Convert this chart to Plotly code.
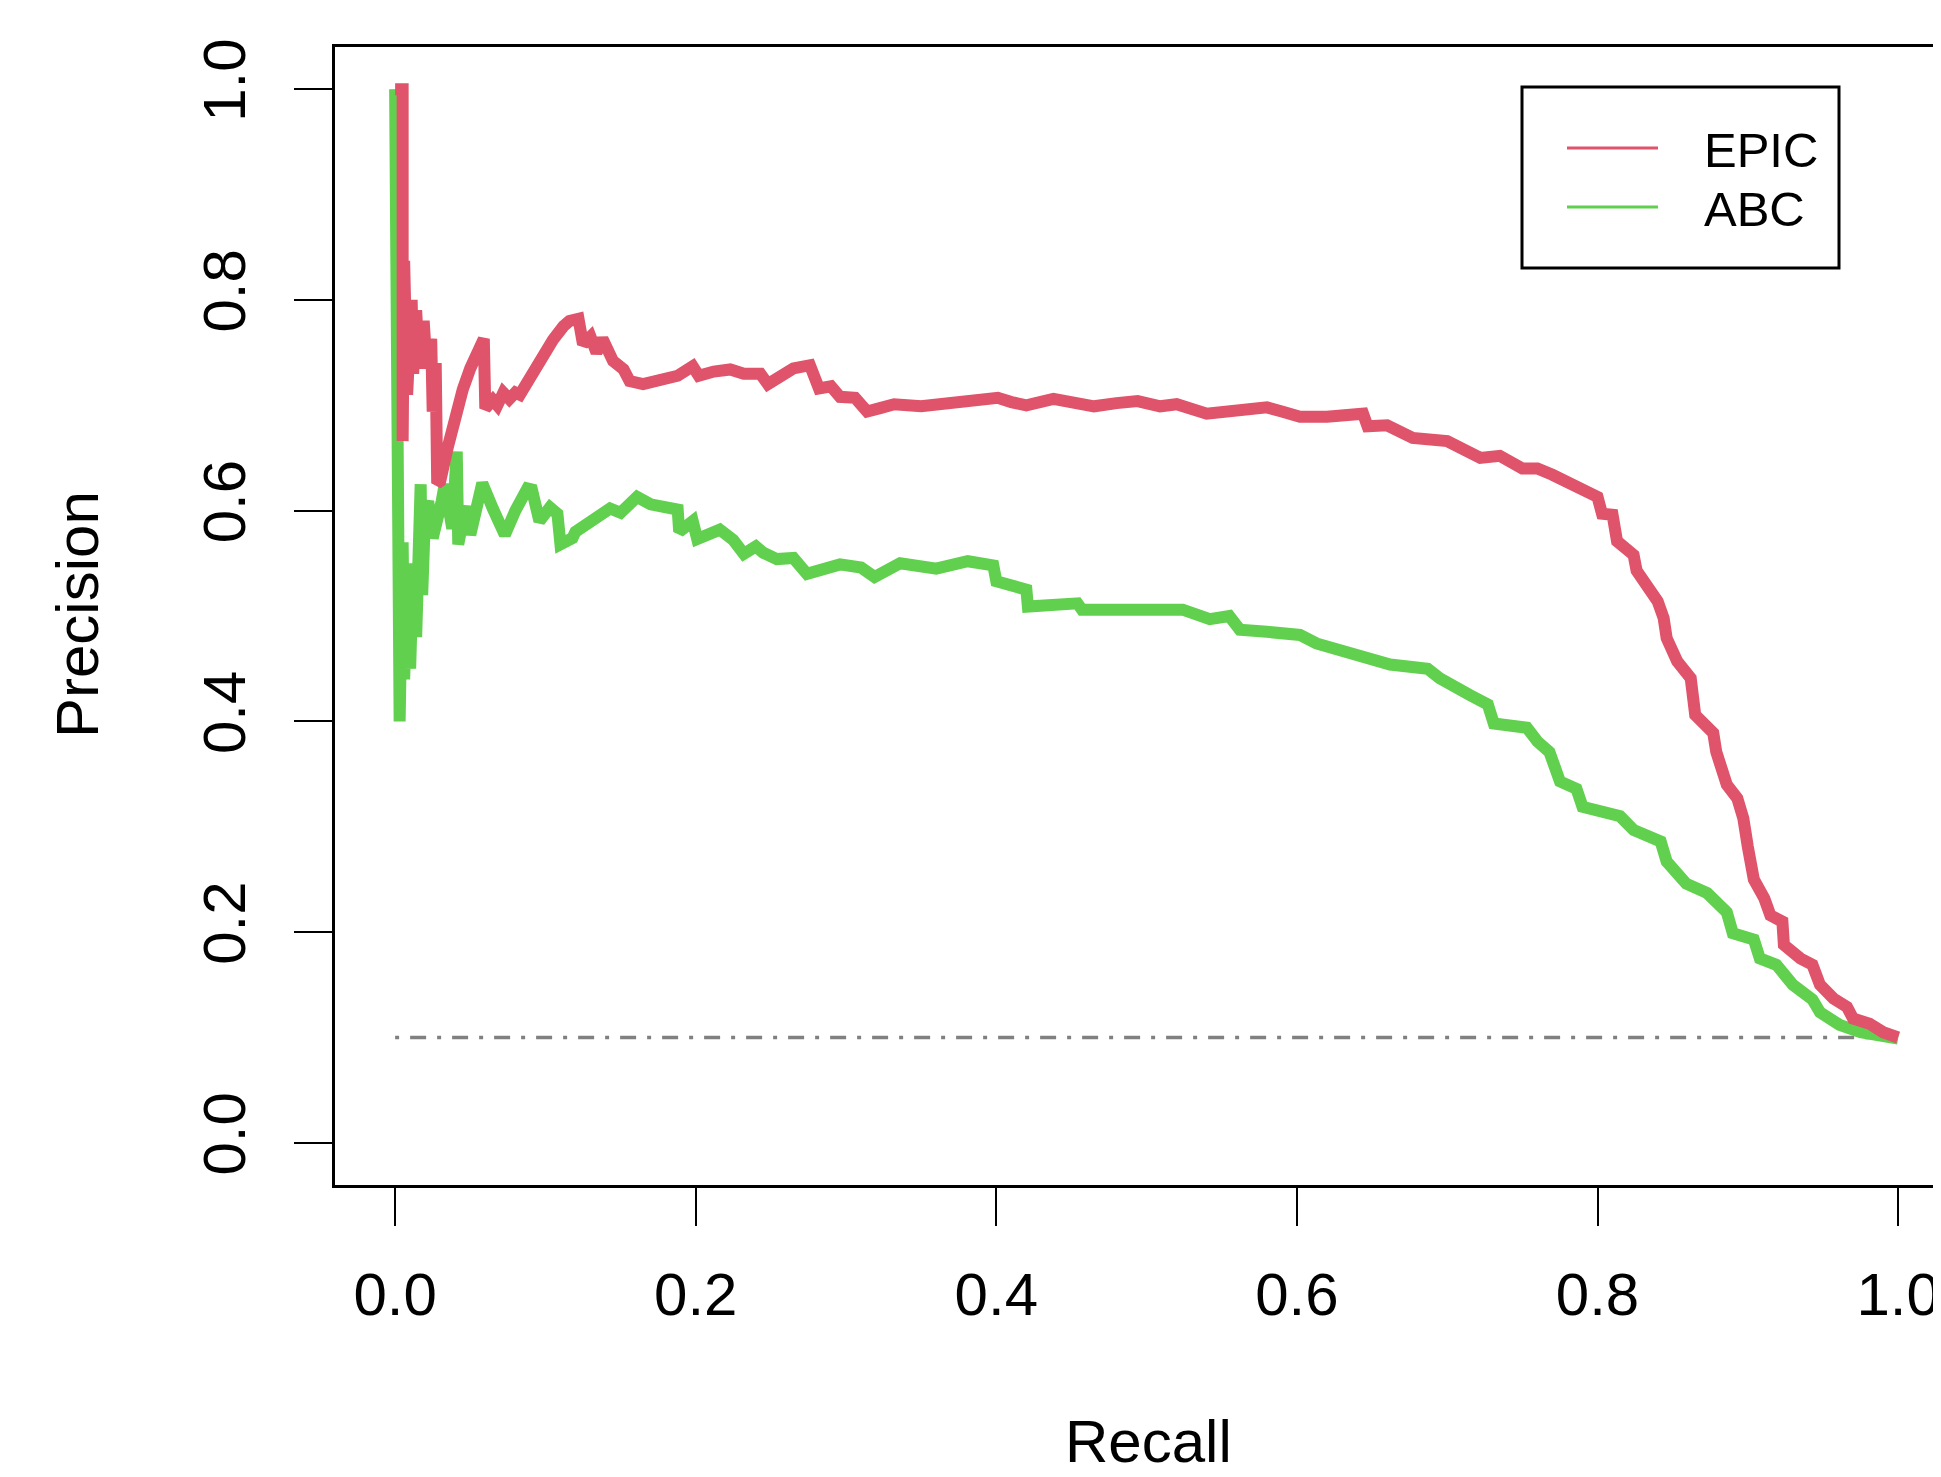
import plotly.graph_objects as go

# ---------------- data ----------------
epic_recall = [0.000, 0.005, 0.005, 0.006, 0.008, 0.011, 0.012, 0.014, 0.016, 0.019, 0.021, 0.024,
               0.025, 0.027, 0.028, 0.030, 0.035, 0.040, 0.045, 0.050, 0.055, 0.059, 0.060, 0.065,
               0.068, 0.072, 0.076, 0.080, 0.083, 0.090, 0.097, 0.105, 0.112, 0.116, 0.122, 0.125,
               0.130, 0.134, 0.138, 0.145, 0.152, 0.156, 0.165, 0.170, 0.178, 0.188, 0.198, 0.202,
               0.212, 0.223, 0.232, 0.243, 0.248, 0.265, 0.276, 0.282, 0.290, 0.296, 0.306, 0.314,
               0.322, 0.332, 0.350, 0.365, 0.376, 0.390, 0.401, 0.410, 0.420, 0.438, 0.450, 0.465,
               0.480, 0.494, 0.509, 0.520, 0.540, 0.555, 0.580, 0.590, 0.602, 0.620, 0.644, 0.647,
               0.660, 0.677, 0.700, 0.722, 0.735, 0.750, 0.760, 0.770, 0.782, 0.800, 0.803, 0.810,
               0.813, 0.824, 0.826, 0.833, 0.840, 0.844, 0.846, 0.853, 0.862, 0.865, 0.877, 0.879,
               0.886, 0.893, 0.897, 0.900, 0.904, 0.911, 0.915, 0.923, 0.924, 0.935, 0.943, 0.948,
               0.957, 0.966, 0.970, 0.981, 0.990, 1.000]
epic_precision = [1.000, 1.000, 0.666, 0.837, 0.710, 0.800, 0.730, 0.790, 0.735, 0.780, 0.735, 0.763,
                  0.694, 0.740, 0.626, 0.628, 0.660, 0.690, 0.715, 0.735, 0.752, 0.763, 0.697, 0.705,
                  0.700, 0.712, 0.706, 0.712, 0.710, 0.728, 0.745, 0.762, 0.775, 0.780, 0.782, 0.758,
                  0.765, 0.750, 0.763, 0.742, 0.734, 0.723, 0.720, 0.722, 0.726, 0.728, 0.737, 0.728,
                  0.732, 0.734, 0.730, 0.730, 0.720, 0.735, 0.738, 0.716, 0.718, 0.708, 0.707, 0.694,
                  0.697, 0.701, 0.699, 0.702, 0.702, 0.705, 0.707, 0.703, 0.700, 0.706, 0.703, 0.699,
                  0.702, 0.704, 0.699, 0.701, 0.692, 0.694, 0.698, 0.694, 0.689, 0.689, 0.692, 0.680,
                  0.681, 0.669, 0.666, 0.650, 0.652, 0.640, 0.640, 0.634, 0.626, 0.613, 0.597, 0.596,
                  0.571, 0.558, 0.543, 0.530, 0.514, 0.498, 0.479, 0.457, 0.441, 0.406, 0.389, 0.371,
                  0.340, 0.327, 0.308, 0.281, 0.250, 0.232, 0.216, 0.210, 0.188, 0.175, 0.169, 0.150,
                  0.137, 0.129, 0.118, 0.113, 0.105, 0.100]

abc_recall = [0.000, 0.001, 0.002, 0.003, 0.005, 0.006, 0.008, 0.010, 0.012, 0.014, 0.017, 0.018,
              0.020, 0.022, 0.025, 0.028, 0.031, 0.033, 0.035, 0.038, 0.041, 0.042, 0.045, 0.048,
              0.050, 0.054, 0.058, 0.065, 0.073, 0.080, 0.088, 0.091, 0.096, 0.103, 0.108, 0.110,
              0.118, 0.120, 0.132, 0.143, 0.150, 0.161, 0.170, 0.180, 0.188, 0.189, 0.198, 0.201,
              0.216, 0.225, 0.232, 0.240, 0.245, 0.254, 0.265, 0.274, 0.285, 0.296, 0.310, 0.319,
              0.336, 0.360, 0.381, 0.398, 0.400, 0.420, 0.421, 0.440, 0.454, 0.457, 0.480, 0.509,
              0.524, 0.542, 0.555, 0.562, 0.580, 0.602, 0.613, 0.638, 0.662, 0.687, 0.695, 0.715,
              0.727, 0.731, 0.753, 0.760, 0.768, 0.775, 0.786, 0.790, 0.805, 0.815, 0.824, 0.842,
              0.846, 0.859, 0.873, 0.886, 0.890, 0.904, 0.908, 0.919, 0.930, 0.943, 0.948, 0.961,
              0.975, 1.000]
abc_precision = [1.000, 0.500, 0.667, 0.400, 0.570, 0.440, 0.520, 0.450, 0.550, 0.480, 0.625, 0.520,
                 0.600, 0.609, 0.574, 0.600, 0.609, 0.625, 0.600, 0.583, 0.656, 0.568, 0.590, 0.604,
                 0.577, 0.600, 0.626, 0.602, 0.577, 0.600, 0.621, 0.620, 0.590, 0.603, 0.597, 0.568,
                 0.574, 0.580, 0.590, 0.602, 0.598, 0.613, 0.606, 0.604, 0.601, 0.580, 0.590, 0.573,
                 0.582, 0.572, 0.559, 0.566, 0.560, 0.554, 0.555, 0.540, 0.545, 0.549, 0.546, 0.537,
                 0.550, 0.545, 0.552, 0.548, 0.533, 0.525, 0.509, 0.511, 0.512, 0.506, 0.507, 0.506,
                 0.506, 0.497, 0.500, 0.487, 0.485, 0.482, 0.474, 0.463, 0.454, 0.450, 0.441, 0.425,
                 0.416, 0.398, 0.394, 0.381, 0.371, 0.343, 0.336, 0.319, 0.313, 0.310, 0.297, 0.286,
                 0.267, 0.246, 0.237, 0.219, 0.199, 0.193, 0.175, 0.169, 0.150, 0.136, 0.124, 0.112,
                 0.105, 0.099]

baseline_recall = [0.0, 1.0]
baseline_precision = [0.1, 0.1]

tick_values = [0.0, 0.2, 0.4, 0.6, 0.8, 1.0]
tick_labels = ["0.0", "0.2", "0.4", "0.6", "0.8", "1.0"]

series_names = ["EPIC", "ABC"]
series_colors = ["#DF536B", "#61D04F"]

# ---------------- layout geometry (page pixels; page body has an 8px margin) ----------------
OFF = 8
W, H = 1941 - OFF, 1477 - OFF
PLOT_LEFT, PLOT_TOP, PLOT_BOTTOM = 335 - OFF, 47 - OFF, 1185 - OFF
ML, MT, MB = PLOT_LEFT, PLOT_TOP, H - PLOT_BOTTOM
PW = W - ML
PH = H - MT - MB
FONT = "Liberation Sans, Arial, Helvetica, sans-serif"


def px(X):
    # X is a page pixel coordinate
    return (X - OFF - ML) / PW


def py(Y):
    return (PLOT_BOTTOM - (Y - OFF)) / PH


fig = go.Figure()

fig.add_trace(go.Scatter(x=baseline_recall, y=baseline_precision, mode="lines",
                         line=dict(color="#808080", width=3.5, dash="4px,11px,16px,11px"),
                         showlegend=False, hoverinfo="skip"))
fig.add_trace(go.Scatter(x=abc_recall, y=abc_precision, mode="lines", name=series_names[1],
                         line=dict(color=series_colors[1], width=12), showlegend=False))
fig.add_trace(go.Scatter(x=epic_recall, y=epic_precision, mode="lines", name=series_names[0],
                         line=dict(color=series_colors[0], width=12), showlegend=False))

# x range so that 0 -> 395px and 1 -> 1898px with plot left edge at 335px
x_unit = 1503.0
x_lo = -0.04
x_hi = x_lo + PW / x_unit

axis_common = dict(
    tickvals=tick_values, ticktext=tick_labels, ticks="outside", ticklen=38, tickwidth=2,
    tickcolor="black", showgrid=False, zeroline=False, showline=True, linecolor="black",
    linewidth=3, tickfont=dict(family=FONT, size=60, color="black"),
)

fig.update_layout(
    width=W, height=H,
    margin=dict(l=ML, r=0, t=MT, b=MB, pad=0),
    plot_bgcolor="white", paper_bgcolor="white",
    xaxis=dict(range=[x_lo, x_hi], mirror=True, ticklabelstandoff=17, **axis_common),
    yaxis=dict(range=[-0.04, 1.04], mirror=False, tickangle=-90, ticklabelstandoff=25, **axis_common),
    showlegend=False,
)

# axis titles
fig.add_annotation(text="Recall", xref="paper", yref="paper", x=px(1148), y=py(1441),
                   xanchor="center", yanchor="middle", showarrow=False,
                   font=dict(family=FONT, size=60, color="black"))
fig.add_annotation(text="Precision", xref="paper", yref="paper", x=px(77), y=py(615),
                   xanchor="center", yanchor="middle", showarrow=False, textangle=-90,
                   font=dict(family=FONT, size=60, color="black"))

# legend box
fig.add_shape(type="rect", xref="paper", yref="paper", x0=px(1522), x1=px(1839),
              y0=py(268), y1=py(87), line=dict(color="black", width=3), fillcolor="white")
for name, color, Yc in zip(series_names, series_colors, [148, 207]):
    fig.add_shape(type="line", xref="paper", yref="paper", x0=px(1567), x1=px(1658),
                  y0=py(Yc), y1=py(Yc), line=dict(color=color, width=3))
    fig.add_annotation(text=name, xref="paper", yref="paper", x=px(1702), y=py(Yc + 2),
                       xanchor="left", yanchor="middle", showarrow=False,
                       font=dict(family=FONT, size=49, color="black"))

fig.write_html("out.html")
